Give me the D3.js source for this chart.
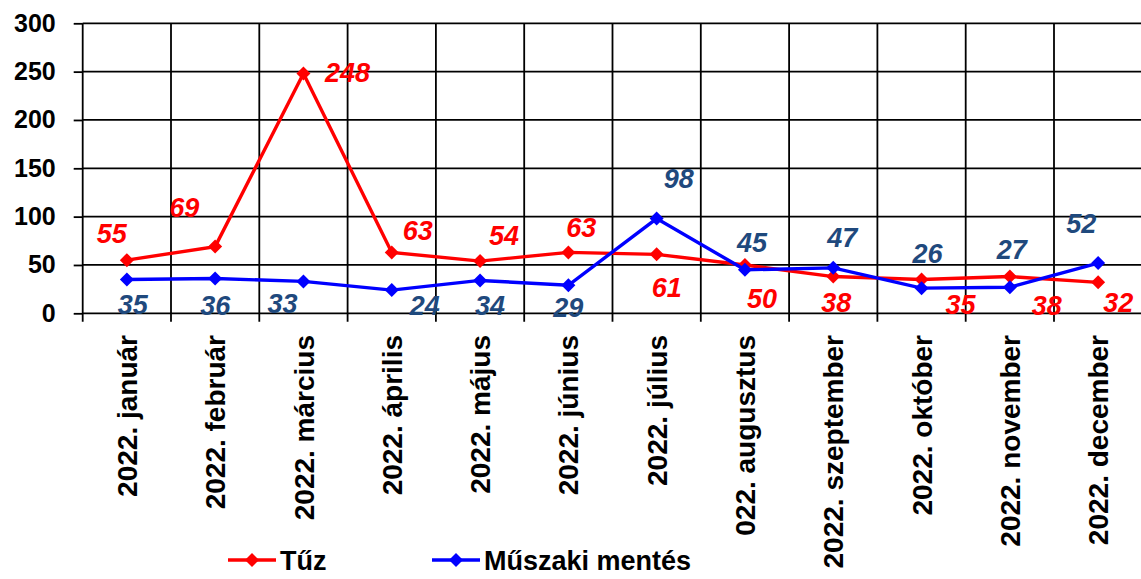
<!DOCTYPE html>
<html>
<head>
<meta charset="utf-8">
<script src="https://cdn.jsdelivr.net/npm/d3@7"></script>
<style>
  body { margin: 0; background: #fff; }
  svg { display: block; font-family: "Liberation Sans", Arial, sans-serif; }
</style>
</head>
<body>
<svg id="chart"></svg>
<script>
const months = ['2022. január', '2022. február', '2022. március', '2022. április', '2022. május', '2022. június',
    '2022. július', '022. augusztus', '2022. szeptember', '2022. október', '2022. november', '2022. december']
const fire = [55, 69, 248, 63, 54, 63, 61, 50, 38, 35, 38, 32]
const rescue = [35, 36, 33, 24, 34, 29, 98, 45, 47, 26, 27, 52]
const yTicks = [0, 50, 100, 150, 200, 250, 300]
const seriesNames = ['Tűz', 'Műszaki mentés']

// label placement relative to the point (dx, dy to baseline) - hand placed like in the original
const fireLabelPos = [[-15, -17], [-31, -30], [44, 8], [26, -12], [24, -16], [13, -15],
    [10, 43], [17, 43], [3, 35], [39, 35], [37, 38], [20, 30]]
const rescueLabelPos = [[6, 35], [0, 36], [-21, 32], [33, 25], [10, 35], [0, 32],
    [22, -31], [7, -18], [9, -21], [6, -25], [2, -28], [-17, -30]]

const svgw = 1141
const svgh = 579
const plotL = 82.7, plotR = 1142.3, plotT = 23.3, plotB = 313.3

const svg = d3.select('#chart')
    .attr('width', svgw)
    .attr('height', svgh)

const xScale = d3.scaleBand()
    .domain(months)
    .range([plotL, plotR])
    .padding(0)
const yScale = d3.scaleLinear()
    .domain([0, 300])
    .range([plotB, plotT])

// horizontal grid + y axis
const yAxis = d3.axisLeft(yScale)
    .tickValues(yTicks)
    .tickSize(9)
    .tickPadding(18)
svg.append('g')
    .attr('transform', `translate(${plotL},0)`)
    .call(yAxis)
    .call(g => g.select('.domain').remove())
    .call(g => g.selectAll('.tick line').attr('stroke', '#000').attr('stroke-width', 1.8))
    .call(g => g.selectAll('.tick text')
        .attr('fill', '#000')
        .style('font-size', '25px')
        .style('font-weight', 'bold'))

svg.append('g')
    .selectAll('line')
    .data(yTicks)
    .join('line')
    .attr('x1', plotL)
    .attr('x2', plotR)
    .attr('y1', d => yScale(d))
    .attr('y2', d => yScale(d))
    .attr('stroke', '#000')
    .attr('stroke-width', 1.8)

// vertical grid at category boundaries, running past the axis as tick marks
const bounds = d3.range(months.length + 1).map(i => xScale.range()[0] + i * xScale.step())
svg.append('g')
    .selectAll('line')
    .data(bounds)
    .join('line')
    .attr('x1', d => d)
    .attr('x2', d => d)
    .attr('y1', plotT)
    .attr('y2', plotB + 8.5)
    .attr('stroke', '#000')
    .attr('stroke-width', 1.8)

// x labels, rotated
svg.append('g')
    .selectAll('text')
    .data(months)
    .join('text')
    .attr('transform', d => `translate(${xScale(d) + xScale.bandwidth() / 2},335) rotate(-90)`)
    .attr('text-anchor', 'end')
    .attr('dy', '0.36em')
    .style('font-size', '28px')
    .style('font-weight', 'bold')
    .text(d => d)

const cx = i => xScale(months[i]) + xScale.bandwidth() / 2
const diamond = d3.symbol().type(d3.symbolSquare).size(98)

const line = d3.line()
    .x((d, i) => cx(i))
    .y(d => yScale(d))

const series = [
    { values: fire, color: '#ff0000', labelColor: '#ff0000', pos: fireLabelPos },
    { values: rescue, color: '#0000ff', labelColor: '#1f497d', pos: rescueLabelPos }
]

series.forEach(s => {
    svg.append('path')
        .datum(s.values)
        .attr('d', line)
        .attr('fill', 'none')
        .attr('stroke', s.color)
        .attr('stroke-width', 3.4)

    svg.append('g')
        .selectAll('path')
        .data(s.values)
        .join('path')
        .attr('d', diamond)
        .attr('transform', (d, i) => `translate(${cx(i)},${yScale(d)}) rotate(45)`)
        .attr('fill', s.color)
})

series.forEach(s => {
    svg.append('g')
        .selectAll('text')
        .data(s.values)
        .join('text')
        .attr('x', (d, i) => cx(i) + s.pos[i][0])
        .attr('y', (d, i) => yScale(d) + s.pos[i][1])
        .attr('text-anchor', 'middle')
        .attr('fill', s.labelColor)
        .style('font-size', '27px')
        .style('font-weight', 'bold')
        .style('font-style', 'italic')
        .text(d => d)
})

// legend
const legend = svg.append('g')
const legendX = [228, 432]
series.forEach((s, i) => {
    const g = legend.append('g').attr('transform', `translate(${legendX[i]},560)`)
    g.append('line')
        .attr('x1', 0)
        .attr('x2', 48)
        .attr('stroke', s.color)
        .attr('stroke-width', 3.4)
    g.append('path')
        .attr('d', diamond)
        .attr('transform', 'translate(24,0) rotate(45)')
        .attr('fill', s.color)
    g.append('text')
        .attr('x', 52)
        .attr('y', 9.5)
        .style('font-size', '27px')
        .style('font-weight', 'bold')
        .text(seriesNames[i])
})
</script>
</body>
</html>
